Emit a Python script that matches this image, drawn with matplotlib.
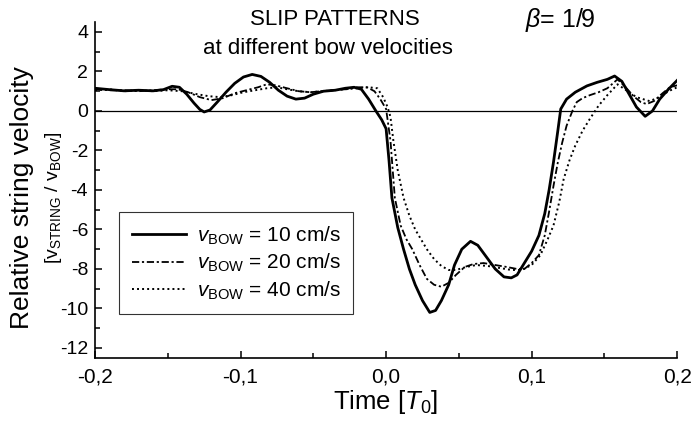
import matplotlib
matplotlib.use('Agg')
import matplotlib.pyplot as plt
import numpy as np
from matplotlib.ticker import MultipleLocator, FuncFormatter

plt.rcParams['font.family'] = ['Liberation Sans', 'DejaVu Sans']
plt.rcParams['mathtext.fontset'] = 'custom'
plt.rcParams['mathtext.rm'] = 'Liberation Sans'
plt.rcParams['mathtext.it'] = 'Liberation Sans:italic'

# time in units of T0, relative string velocity v_string / v_bow
t_10 = [-0.2, -0.19, -0.18, -0.17, -0.16, -0.153, -0.147, -0.142, -0.137, -0.132,
        -0.128, -0.125, -0.121, -0.116, -0.11, -0.104, -0.098, -0.092, -0.086, -0.08,
        -0.074, -0.068, -0.062, -0.056, -0.05, -0.043, -0.035, -0.028, -0.022, -0.017,
        -0.012, -0.007, -0.003, 0.0, 0.002, 0.004, 0.008, 0.012, 0.016, 0.02,
        0.025, 0.03, 0.034, 0.038, 0.043, 0.047, 0.052, 0.058, 0.063, 0.069,
        0.075, 0.081, 0.086, 0.09, 0.095, 0.1, 0.105, 0.109, 0.112, 0.115,
        0.118, 0.12, 0.124, 0.13, 0.138, 0.145, 0.152, 0.157, 0.162, 0.167,
        0.172, 0.178, 0.183, 0.188, 0.194, 0.2]
v_10 = [1.15, 1.08, 1.02, 1.05, 1.02, 1.08, 1.25, 1.2, 0.85, 0.4,
        0.08, -0.05, 0.05, 0.45, 0.95, 1.4, 1.72, 1.85, 1.75, 1.45,
        1.05, 0.75, 0.6, 0.65, 0.85, 1.0, 1.05, 1.15, 1.2, 1.1,
        0.6, 0.0, -0.45, -0.9, -2.5, -4.4, -5.9, -7.0, -8.0, -8.8,
        -9.6, -10.2, -10.1, -9.6, -8.8, -7.8, -7.0, -6.6, -6.8, -7.4,
        -8.0, -8.4, -8.45, -8.3, -7.7, -7.1, -6.3, -5.2, -4.0, -2.6,
        -1.0, 0.1, 0.6, 0.95, 1.27, 1.45, 1.6, 1.77, 1.5, 0.85,
        0.2, -0.27, 0.0, 0.6, 1.1, 1.55]

t_20 = [-0.2, -0.19, -0.18, -0.17, -0.16, -0.15, -0.143, -0.136, -0.128, -0.12,
        -0.112, -0.104, -0.096, -0.088, -0.082, -0.076, -0.068, -0.06, -0.052, -0.044,
        -0.036, -0.028, -0.02, -0.013, -0.008, -0.004, 0.0, 0.003, 0.006, 0.01,
        0.014, 0.018, 0.023, 0.028, 0.033, 0.038, 0.043, 0.048, 0.054, 0.06,
        0.067, 0.075, 0.083, 0.09, 0.095, 0.1, 0.105, 0.109, 0.112, 0.115,
        0.118, 0.121, 0.124, 0.128, 0.131, 0.135, 0.14, 0.146, 0.152, 0.159,
        0.164, 0.17, 0.175, 0.179, 0.184, 0.19, 0.195, 0.2]
v_20 = [1.1, 1.05, 1.05, 1.0, 1.05, 1.1, 1.1, 0.95, 0.7, 0.55,
        0.65, 0.9, 1.05, 1.2, 1.35, 1.3, 1.15, 1.0, 0.95, 1.0,
        1.05, 1.1, 1.2, 1.2, 1.0, 0.6, 0.1, -1.5, -4.4, -5.8,
        -6.5, -7.0, -7.8, -8.5, -8.8, -8.9, -8.7, -8.3, -7.9, -7.75,
        -7.7, -7.8, -7.9, -8.0, -8.0, -7.7, -7.3, -6.3, -5.1, -3.8,
        -2.6, -1.6, -0.75, 0.0, 0.45, 0.65, 0.8, 0.95, 1.15, 1.6,
        1.25, 0.75, 0.45, 0.35, 0.5, 0.9, 1.2, 1.3]

t_40 = [-0.2, -0.19, -0.18, -0.17, -0.16, -0.15, -0.14, -0.13, -0.122, -0.114,
        -0.106, -0.098, -0.09, -0.082, -0.075, -0.068, -0.06, -0.052, -0.044, -0.036,
        -0.028, -0.02, -0.012, -0.006, -0.002, 0.001, 0.003, 0.005, 0.008, 0.012,
        0.016, 0.02, 0.024, 0.028, 0.033, 0.038, 0.043, 0.048, 0.055, 0.062,
        0.07, 0.078, 0.086, 0.093, 0.1, 0.106, 0.111, 0.115, 0.119, 0.122,
        0.126, 0.13, 0.135, 0.14, 0.146, 0.152, 0.159, 0.165, 0.172, 0.181,
        0.188, 0.194, 0.2]
v_40 = [1.05, 1.1, 1.0, 1.05, 1.0, 1.05, 1.0, 0.85, 0.75, 0.7,
        0.8, 0.95, 1.05, 1.15, 1.2, 1.1, 1.0, 0.95, 1.0, 1.05,
        1.1, 1.15, 1.2, 1.15, 0.7, 0.2, -0.3, -1.5, -3.0, -4.4,
        -5.3, -6.0, -6.5, -7.0, -7.5, -7.85, -8.05, -8.05, -7.9, -7.8,
        -7.85, -7.95, -8.05, -8.05, -7.8, -7.3, -6.5, -5.8, -4.6, -3.45,
        -2.5, -1.75, -1.0, -0.4, 0.27, 0.8, 1.35, 1.05, 0.7, 0.5,
        0.7, 1.0, 1.2]

labels = [r'$v_{\rm BOW}$ = 10 cm/s', r'$v_{\rm BOW}$ = 20 cm/s', r'$v_{\rm BOW}$ = 40 cm/s']

fig = plt.figure(figsize=(6.91, 4.25), dpi=100)
ax = fig.add_axes([0.1375, 0.158, 0.8425, 0.79])

ax.axhline(0, color='black', lw=0.9)
ax.plot(t_10, v_10, color='black', lw=2.0, ls='-', label=labels[0])
ax.plot(t_20, v_20, color='black', lw=1.3, ls=(0, (4, 1.5, 1.2, 1.5)), label=labels[1])
ax.plot(t_40, v_40, color='black', lw=1.4, ls=(0, (1, 1.6)), label=labels[2])

ax.set_xlim(-0.2, 0.2)
ax.set_ylim(-12.5, 4.5)
ax.spines['top'].set_visible(False)
ax.spines['right'].set_visible(False)
ax.spines['left'].set_linewidth(1.2)
ax.spines['bottom'].set_linewidth(1.2)

ax.xaxis.set_major_locator(MultipleLocator(0.1))
ax.xaxis.set_minor_locator(MultipleLocator(0.05))
ax.yaxis.set_major_locator(MultipleLocator(2))
ax.yaxis.set_minor_locator(MultipleLocator(1))
ax.xaxis.set_major_formatter(FuncFormatter(lambda x, p: f'{x:.1f}'.replace('.', ',').replace('-0,0', '0,0')))
ax.yaxis.set_major_formatter(FuncFormatter(lambda y, p: f'{y:.0f}'))
ax.tick_params(which='both', direction='in', width=1.1)
ax.tick_params(axis='x', labelsize=15, pad=7)
ax.tick_params(axis='y', labelsize=14, pad=5)
ax.tick_params(which='major', length=5)
ax.tick_params(which='minor', length=3.5)

ax.set_xlabel(r'Time [$T_0$]', fontsize=18.5, labelpad=1)

fig.text(0.032, 0.535, 'Relative string velocity', rotation=90, fontsize=19,
         ha='center', va='center')
fig.text(0.077, 0.535, r'[$\mathrm{v}_{\rm STRING}$ / $\mathrm{v}_{\rm BOW}$]', rotation=90,
         fontsize=14, ha='center', va='center')

fig.text(0.485, 0.955, 'SLIP PATTERNS', fontsize=16, ha='center', va='center')
fig.text(0.475, 0.885, 'at different bow velocities', fontsize=16, ha='center', va='center')
fig.text(0.81, 0.952, r'$\beta$= 1/9', fontsize=18, ha='center', va='center')

leg = ax.legend(loc='lower left', bbox_to_anchor=(0.042, 0.13), fontsize=15,
                frameon=True, fancybox=False, edgecolor='black', handlelength=2.6,
                handletextpad=0.5, borderpad=0.6, labelspacing=0.25, borderaxespad=0)
leg.get_frame().set_linewidth(0.8)

fig.savefig('out.png', dpi=100)
